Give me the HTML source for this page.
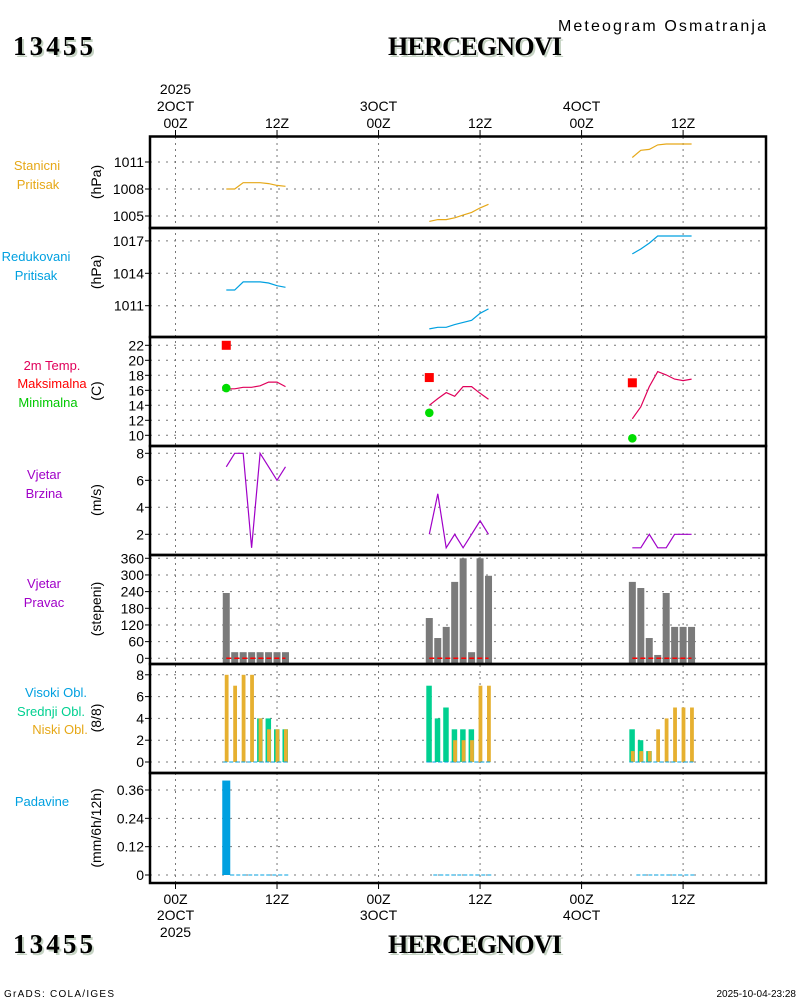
<!DOCTYPE html>
<html><head><meta charset="utf-8"><style>
html,body{margin:0;padding:0;background:#fff;}
svg{display:block;font-family:"Liberation Sans",sans-serif;}
</style></head><body>
<svg id="chart" width="800" height="1000" viewBox="0 0 800 1000" xmlns="http://www.w3.org/2000/svg">
<g>
 <text x="15" y="57" font-family="Liberation Serif,serif" font-weight="bold" font-size="27" fill="#c5d3c3" textLength="80">13455</text>
 <text x="13" y="55" font-family="Liberation Serif,serif" font-weight="bold" font-size="27" fill="#000" textLength="80">13455</text>
 <text x="390" y="57" font-family="Liberation Serif,serif" font-weight="bold" font-size="26" fill="#c5d3c3" textLength="174">HERCEGNOVI</text>
 <text x="388" y="55" font-family="Liberation Serif,serif" font-weight="bold" font-size="26" fill="#000" textLength="174">HERCEGNOVI</text>
 <text x="558" y="31" font-size="16" fill="#000" textLength="208">Meteogram Osmatranja</text>
</g>
<g id="grid"></g>
<g id="marks"></g>
<g id="frames"></g>
<g id="labels"></g>
<g>
 <text x="15" y="955" font-family="Liberation Serif,serif" font-weight="bold" font-size="27" fill="#c5d3c3" textLength="80">13455</text>
 <text x="13" y="953" font-family="Liberation Serif,serif" font-weight="bold" font-size="27" fill="#000" textLength="80">13455</text>
 <text x="390" y="955" font-family="Liberation Serif,serif" font-weight="bold" font-size="26" fill="#c5d3c3" textLength="174">HERCEGNOVI</text>
 <text x="388" y="953" font-family="Liberation Serif,serif" font-weight="bold" font-size="26" fill="#000" textLength="174">HERCEGNOVI</text>
 <text x="4" y="997" font-size="10" fill="#000" textLength="110">GrADS: COLA/IGES</text>
 <text x="796" y="997" text-anchor="end" font-size="10" fill="#000">2025-10-04-23:28</text>
</g>
</svg>
<script>
const hours=[6,7,8,9,10,11,12,13];
const days=[0,1,2];
const presSt=[[1008.0,1008.0,1008.7,1008.7,1008.7,1008.6,1008.4,1008.3],[1004.4,1004.6,1004.6,1004.8,1005.1,1005.4,1005.9,1006.3],[1011.5,1012.3,1012.4,1012.9,1013.0,1013.0,1013.0,1013.0]];
const presRed=[[1012.45,1012.45,1013.2,1013.2,1013.2,1013.1,1012.85,1012.7],[1008.85,1009.0,1009.0,1009.25,1009.45,1009.65,1010.3,1010.7],[1015.8,1016.25,1016.8,1017.45,1017.45,1017.45,1017.45,1017.45]];
const temp=[[16.2,16.2,16.4,16.4,16.6,17.1,17.1,16.5],[14.0,14.9,15.7,15.2,16.5,16.5,15.6,14.8],[12.2,13.8,16.5,18.5,18.05,17.5,17.3,17.5]];
const tmax=[22.0,17.7,17.0];
const tmin=[16.3,13.0,9.6];
const windSpd=[[7,8,8,1,8,7,6,7],[2,5,1,2,1,2,3,2],[1,1,2,1,1,2,2,2]];
const windDir=[[235,22,22,22,22,22,22,22],[145,73,113,275,360,22,360,297],[275,253,73,12,235,113,113,113]];
const cloudMid=[[0,0,0,0,4,4,3,3],[7,4,5,3,3,3,0,0],[3,2,1,0,0,0,0,0]];
const cloudLow=[[8,7,8,8,4,3,3,3],[0,0,0,2,2,2,7,7],[1,1,1,3,4,5,5,5]];
const precip=[[0.40,0,0,0,0,0,0,0],[0,0,0,0,0,0,0,0],[0,0,0,0,0,0,0,0]];
const tickP1=[1011,1008,1005];
const tickP2=[1017,1014,1011];
const tickP3=[22,20,18,16,14,12,10];
const tickP4=[8,6,4,2];
const tickP5=[360,300,240,180,120,60,0];
const tickP6=[8,6,4,2,0];
const tickP7=[0.36,0.24,0.12,0];
const dayLabels=["2OCT","3OCT","4OCT"];

const NS="http://www.w3.org/2000/svg";
const X0=150,X1=766;
function xT(d,h){return 175.5+(d*24+h)*8.46;}
const yP1=v=>189-(v-1008)*9;
const yP2=v=>273.3-(v-1014)*10.8;
const yP3=v=>390.3-(v-16)*7.5;
const yP4=v=>534.3-(v-2)*13.5;
const yP5=v=>658.3-v*16.67/60;
const yP6=v=>762-v*10.9;
const yP7=v=>875-v*85/0.36;
const panels=[[136.5,228],[228,337],[337,446],[446,555],[555,664],[664,773],[773,883]];
function mk(tag,attrs,parent){const e=document.createElementNS(NS,tag);for(const k in attrs)e.setAttribute(k,attrs[k]);parent.appendChild(e);return e;}
const G=document.getElementById('grid'),M=document.getElementById('marks'),F=document.getElementById('frames'),L=document.getElementById('labels');

for(const d of days){for(const h of [0,12]){
 const x=xT(d,h);
 const gl=mk('line',{x1:x,x2:x,y1:137,y2:883,stroke:'#777','stroke-dasharray':'2 4','stroke-width':1},G);
 
 
 mk('line',{x1:x,x2:x,y1:130,y2:136,stroke:'#000','stroke-width':1},F);
 mk('line',{x1:x,x2:x,y1:883,y2:889,stroke:'#000','stroke-width':1},F);
 const lab=h===0?"00Z":"12Z";
 const t1=mk('text',{x:x,y:128,'text-anchor':'middle','font-size':14,fill:'#000'},L);t1.textContent=lab;
 
 
 const t2=mk('text',{x:x,y:904,'text-anchor':'middle','font-size':14,fill:'#000'},L);t2.textContent=lab;
 
 
 if(h===0){
  const a=mk('text',{x:x,y:111,'text-anchor':'middle','font-size':14,fill:'#000'},L);a.textContent=dayLabels[d];
  
  
  const b=mk('text',{x:x,y:920,'text-anchor':'middle','font-size':14,fill:'#000'},L);b.textContent=dayLabels[d];
  
  
  if(d===0){
   const c=mk('text',{x:x,y:94,'text-anchor':'middle','font-size':14,fill:'#000'},L);c.textContent="2025";
   
   
   const e=mk('text',{x:x,y:937,'text-anchor':'middle','font-size':14,fill:'#000'},L);e.textContent="2025";
   
   
  }
 }
}}
function yAxis(ticks,fn,fmt,title,titleY){
 for(const v of ticks){const y=fn(v);
  const gl=mk('line',{x1:X0,x2:X1,y1:y,y2:y,stroke:'#777','stroke-dasharray':'2 6','stroke-width':1},G);
  
  
  mk('line',{x1:X0-5,x2:X0,y1:y,y2:y,stroke:'#000'},F);
  const t=mk('text',{x:X0-6,y:y+5,'text-anchor':'end','font-size':14,fill:'#000'},L);t.textContent=fmt(v);
  
  
 }
 const tt=mk('text',{x:0,y:0,'text-anchor':'middle','font-size':14,fill:'#000',transform:`translate(101,${titleY}) rotate(-90)`},L);tt.textContent=title;
 
 
}
yAxis(tickP1,yP1,v=>String(v),"(hPa)",182);
yAxis(tickP2,yP2,v=>String(v),"(hPa)",272);
yAxis(tickP3,yP3,v=>String(v),"(C)",391);
yAxis(tickP4,yP4,v=>String(v),"(m/s)",500);
yAxis(tickP5,yP5,v=>String(v),"(stepeni)",609);
yAxis(tickP6,yP6,v=>String(v),"(8/8)",718);
yAxis(tickP7,yP7,v=>v===0?"0":v.toFixed(2),"(mm/6h/12h)",828);

const leftLabels=[["Stanicni",37,170,'#e6a817'],["Pritisak",38,189,'#e6a817'],["Redukovani",36,261,'#00a0e0'],["Pritisak",36,280,'#00a0e0'],
["2m Temp.",52,370,'#e0005a'],["Maksimalna",52,388,'#ff0000'],["Minimalna",48,407,'#00c800'],["Vjetar",44,479,'#a000c8'],["Brzina",44,498,'#a000c8'],
["Vjetar",44,588,'#a000c8'],["Pravac",44,607,'#a000c8'],["Visoki Obl.",56,697,'#00a0e0'],["Srednji Obl.",51,716,'#00d090'],["Niski Obl.",60,734,'#e6a817'],["Padavine",42,806,'#00a0e0']];
for(const [t,x,y,c] of leftLabels){const e=mk('text',{x:x,y:y,'text-anchor':'middle','font-size':13,fill:c},L);e.textContent=t;
 
 }

function line(data,fn,color,name){for(const d of days){
 const pts=hours.map((h,i)=>xT(d,h).toFixed(1)+','+fn(data[d][i]).toFixed(1)).join(' ');
 const p=mk('polyline',{points:pts,fill:'none',stroke:color,'stroke-width':1.2},M);
 
 
}}
line(presSt,yP1,'#e6a817','station-pressure-line');
line(presRed,yP2,'#00a0e0','reduced-pressure-line');
line(temp,yP3,'#e0005a','temperature-line');
line(windSpd,yP4,'#a000c8','wind-speed-line');
for(const d of days){
 const x=xT(d,6);
 const s=mk('rect',{x:x-4.5,y:yP3(tmax[d])-4.5,width:9,height:9,fill:'#ff0000'},M);
 
 
 const c=mk('circle',{cx:x,cy:yP3(tmin[d]),r:4.3,fill:'#00dd00'},M);
 
 
}
for(const d of days){
 hours.forEach((h,i)=>{const x=xT(d,h);
  const b=mk('rect',{x:x-3.5,y:yP5(windDir[d][i]),width:7,height:663-yP5(windDir[d][i]),fill:'#7a7a7a'},M);
  
  
  if(cloudMid[d][i]>0){const g=mk('rect',{x:x-3,y:yP6(cloudMid[d][i]),width:5.5,height:762-yP6(cloudMid[d][i]),fill:'#00d090'},M);
   
   }
  if(cloudLow[d][i]>0){const o=mk('rect',{x:x-1.5,y:yP6(cloudLow[d][i]),width:3.8,height:762-yP6(cloudLow[d][i]),fill:'#e6b030'},M);
   
   }
  if(precip[d][i]>0){const p=mk('rect',{x:x-4,y:yP7(precip[d][i]),width:8,height:875-yP7(precip[d][i]),fill:'#00a0e0'},M);
   
   }
 });
 const x0=xT(d,6),x1=xT(d,13);
 const r=mk('line',{x1:x0,x2:x1,y1:yP5(0),y2:yP5(0),stroke:'#ff0000','stroke-width':1.5,'stroke-dasharray':'5 3'},M);
 
 
 const cy=mk('line',{x1:x0-3,x2:x1+3,y1:yP6(0),y2:yP6(0),stroke:'#00a0e0','stroke-width':1,'stroke-dasharray':'4 2'},M);
 
 
 const pl=mk('line',{x1:x0+4,x2:x1+3,y1:yP7(0),y2:yP7(0),stroke:'#00a0e0','stroke-width':1,'stroke-dasharray':'4 2'},M);
 
 
}
for(const [t,b] of panels){const r=mk('rect',{x:X0,y:t,width:X1-X0,height:b-t,fill:'none',stroke:'#000','stroke-width':2.5},F);
 
 }
</script>
</body></html>
